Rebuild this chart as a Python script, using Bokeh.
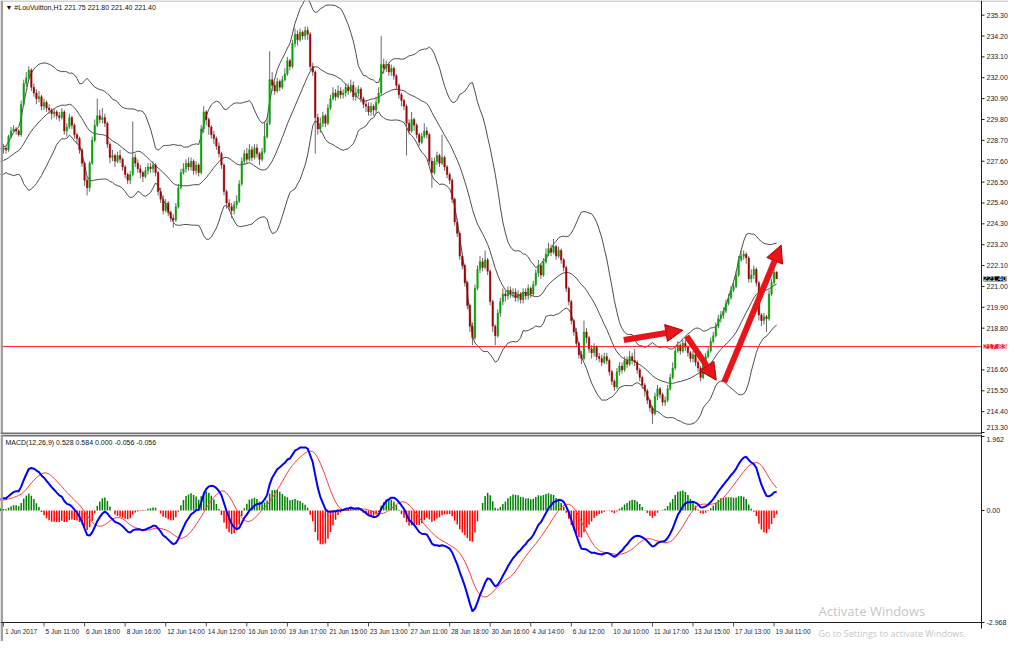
import numpy as np
import pandas as pd
from bokeh.plotting import figure
from bokeh.layouts import column
from bokeh.models import Label, Arrow, NormalHead, Range1d
from bokeh.core.properties import value
from bokeh.embed import file_html
from bokeh.resources import INLINE

# ---------------- data ----------------
symbol_title = "\u25BC #LouVuitton,H1  221.75 221.80 221.40 221.40"
macd_title = "MACD(12,26,9) 0.528 0.584 0.000 -0.056 -0.056"

# hourly closes before the first visible bar (only feed the indicators)
warmup_close = [226.6, 226.4, 226.7, 226.5, 226.8, 226.6, 226.9, 226.7, 226.5, 226.8,
                227.0, 226.8, 226.9, 227.1, 226.9, 227.2, 227.0, 227.3, 227.1, 227.4,
                227.2, 227.5, 227.3, 227.6, 227.4, 227.7, 227.5, 227.8, 227.9, 227.7,
                228.0, 227.8, 228.1, 228.0, 228.2]

close = [228.3, 228.2, 228.9, 229.2, 229.3, 229.2, 229.0, 230.6, 231.7, 232.0,
         232.4, 231.5, 231.2, 230.9, 231.0, 230.5, 230.7, 230.4, 230.3, 230.1,
         230.2, 230.0, 229.9, 230.2, 229.2, 229.4, 229.9, 229.5, 229.0, 228.8,
         228.2, 227.5, 226.6, 226.2, 227.5, 228.7, 229.5, 230.0, 229.8, 229.9,
         229.6, 228.5, 227.8, 227.9, 227.6, 227.9, 227.7, 227.3, 226.9, 226.6,
         226.9, 227.8, 227.5, 227.2, 227.0, 226.8, 227.1, 227.3, 227.2, 227.4,
         227.0, 226.0, 225.6, 225.0, 225.4, 224.9, 224.6, 224.5, 225.2, 226.2,
         227.0, 227.2, 227.5, 227.3, 227.6, 227.1, 227.4, 227.0, 229.3, 230.2,
         229.8, 229.4, 229.0, 228.8, 228.4, 228.0, 227.4, 226.0, 225.4, 225.2,
         225.0, 225.3, 225.5, 226.4, 227.6, 228.0, 227.7, 228.2, 227.8, 228.3,
         228.0, 227.7, 228.1, 228.9, 229.6, 231.9, 231.6, 231.3, 231.8, 231.5,
         231.9, 232.2, 232.9, 232.6, 233.8, 234.3, 234.0, 234.4, 234.2, 234.5,
         234.3, 232.6, 232.3, 229.9, 229.3, 229.6, 230.0, 229.6, 230.4, 230.9,
         231.2, 231.0, 231.3, 231.1, 231.2, 231.5, 231.3, 231.6, 231.0, 231.2,
         231.4, 230.9, 230.6, 230.5, 230.2, 230.5, 230.3, 230.7, 231.2, 232.7,
         232.5, 232.7, 232.3, 232.5, 232.1, 231.6, 231.1, 230.8, 230.5, 229.6,
         229.2, 229.8, 229.5, 229.0, 228.6, 228.9, 229.2, 229.0, 227.6, 227.0,
         227.6, 227.9, 227.5, 227.8, 227.3, 226.9, 226.6, 225.6, 224.4, 223.8,
         222.6, 222.1, 221.2, 220.0, 218.9, 218.3, 220.9, 221.9, 222.3, 222.0,
         222.4, 221.8, 220.2, 218.9, 218.4, 219.6, 220.2, 220.6, 220.5, 220.8,
         220.6, 220.7, 220.4, 220.6, 220.3, 220.7, 220.5, 220.9, 220.6, 221.1,
         221.7, 222.1, 221.6, 222.3, 222.7, 223.0, 222.8, 223.1, 222.6, 222.9,
         222.4, 222.0, 220.9, 220.2, 219.2, 218.6, 218.0, 217.4, 217.2, 218.6,
         218.3, 217.7, 217.5, 217.8, 217.3, 217.2, 217.0, 217.3, 217.1, 216.5,
         216.0, 215.7, 216.5, 216.8, 216.6, 217.1, 216.9, 217.3, 217.1, 217.0,
         216.6, 216.2, 215.8, 215.5, 215.0, 214.6, 214.3, 215.2, 215.6, 215.3,
         214.9, 215.0, 215.6, 216.2, 216.7, 217.6, 217.9, 217.6, 218.0, 217.8,
         217.5, 217.2, 217.4, 217.0, 216.7, 216.2, 216.9, 217.3, 217.6, 218.1,
         218.4, 218.9, 219.3, 219.5, 219.7, 220.1, 220.4, 220.8, 221.0, 221.6,
         222.4, 222.6, 222.7, 222.5, 221.4, 221.6, 221.9, 221.2, 219.5, 219.2,
         219.4, 219.3, 220.6, 221.2, 221.75, 221.40]

high = [228.5, 228.4, 229.0, 229.4, 229.5, 229.4, 229.3, 230.8, 231.9, 232.3,
        232.6, 232.5, 231.7, 231.4, 231.3, 231.1, 230.9, 230.8, 230.6, 230.4,
        230.4, 230.3, 230.2, 230.4, 230.3, 229.6, 230.1, 230.0, 229.6, 229.1,
        228.9, 228.3, 227.6, 226.8, 227.6, 228.9, 229.8, 230.9, 230.3, 230.4,
        230.1, 229.7, 228.6, 228.2, 228.0, 228.1, 228.2, 227.8, 227.4, 227.0,
        227.1, 229.7, 228.0, 227.7, 227.4, 227.1, 227.3, 227.5, 227.5, 227.6,
        227.5, 227.1, 226.2, 225.8, 225.6, 225.5, 225.0, 224.8, 225.4, 226.4,
        227.2, 227.5, 227.7, 227.8, 227.8, 227.7, 227.6, 227.5, 229.5, 230.5,
        230.3, 229.9, 229.5, 229.2, 228.9, 228.6, 228.1, 227.5, 226.1, 225.6,
        225.4, 225.5, 225.8, 226.6, 227.8, 228.2, 228.3, 228.5, 228.4, 228.5,
        228.5, 228.1, 228.3, 229.7, 229.9, 233.4, 232.3, 231.8, 232.0, 231.9,
        232.1, 232.5, 233.1, 233.0, 234.0, 234.6, 234.5, 234.6, 234.5, 234.7,
        234.7, 234.4, 232.8, 232.4, 230.1, 229.9, 230.2, 230.1, 230.6, 231.1,
        231.5, 231.4, 231.6, 231.5, 231.4, 231.7, 231.7, 231.9, 231.8, 231.5,
        231.6, 231.5, 231.0, 230.8, 230.7, 230.7, 230.6, 231.0, 231.5, 234.2,
        233.0, 232.9, 232.8, 232.7, 232.6, 232.2, 231.7, 231.2, 230.9, 230.6,
        229.8, 230.2, 229.9, 229.6, 229.1, 229.1, 229.6, 229.4, 229.1, 227.8,
        227.8, 228.1, 228.0, 229.0, 227.9, 227.4, 227.0, 226.7, 225.7, 224.6,
        223.9, 222.8, 222.2, 221.3, 220.1, 219.1, 221.1, 222.1, 222.6, 222.5,
        222.9, 222.5, 221.9, 220.3, 219.0, 219.8, 220.4, 220.9, 220.8, 221.0,
        221.0, 220.9, 220.9, 220.8, 220.7, 220.9, 220.9, 221.1, 221.0, 221.3,
        221.9, 222.4, 222.2, 222.5, 223.0, 223.3, 223.2, 223.5, 223.2, 223.1,
        223.0, 222.5, 222.1, 221.0, 220.3, 219.3, 218.8, 218.1, 217.6, 219.2,
        218.8, 218.4, 217.9, 218.0, 217.9, 217.5, 217.4, 217.5, 217.5, 217.2,
        216.6, 216.1, 216.7, 217.0, 217.0, 217.3, 217.3, 217.6, 217.5, 217.7,
        217.1, 216.7, 216.3, 215.9, 215.6, 215.1, 214.7, 215.4, 215.8, 215.7,
        215.4, 215.2, 215.8, 216.4, 217.0, 217.8, 218.1, 218.0, 218.2, 218.2,
        217.9, 217.6, 217.6, 217.5, 217.1, 216.8, 217.1, 217.5, 217.8, 218.3,
        218.6, 219.1, 219.5, 219.7, 219.9, 220.3, 220.6, 221.0, 221.3, 221.8,
        222.6, 222.9, 222.9, 222.8, 222.6, 221.9, 222.1, 222.0, 221.3, 219.6,
        219.6, 219.5, 220.8, 221.4, 221.9, 221.80]

low = [228.0, 228.0, 228.1, 228.8, 229.1, 229.0, 228.9, 228.9, 230.5, 231.5,
       231.9, 231.3, 231.0, 230.6, 230.7, 230.3, 230.3, 230.2, 230.1, 229.8,
       229.9, 229.8, 229.7, 229.8, 229.0, 228.9, 229.3, 229.3, 228.8, 228.5,
       228.0, 227.3, 226.3, 225.8, 226.0, 227.4, 228.6, 229.4, 229.6, 229.6,
       229.4, 228.3, 227.5, 227.6, 227.3, 227.5, 227.5, 227.1, 226.7, 226.4,
       226.4, 226.8, 227.3, 227.0, 226.7, 226.5, 226.7, 226.9, 227.0, 227.0,
       226.8, 225.8, 225.4, 224.8, 224.9, 224.7, 224.4, 224.1, 224.4, 225.1,
       226.1, 226.9, 227.0, 227.1, 227.1, 226.9, 226.9, 226.8, 226.9, 229.1,
       229.5, 229.0, 228.8, 228.5, 228.2, 227.8, 227.2, 225.8, 225.1, 225.0,
       224.6, 224.8, 225.1, 225.4, 226.3, 227.4, 227.5, 227.6, 227.6, 227.7,
       227.8, 227.4, 227.6, 228.0, 228.8, 229.5, 231.3, 231.1, 231.2, 231.3,
       231.4, 231.8, 232.1, 232.4, 232.5, 233.6, 233.7, 233.9, 234.0, 234.0,
       234.0, 232.4, 232.1, 228.0, 229.0, 229.1, 229.4, 229.4, 229.5, 230.3,
       230.8, 230.8, 230.9, 230.9, 230.9, 231.0, 231.1, 231.2, 230.8, 230.8,
       231.0, 230.7, 230.4, 230.2, 230.0, 230.0, 230.0, 230.1, 230.6, 231.1,
       232.2, 232.3, 232.1, 232.1, 231.9, 231.4, 230.9, 230.5, 230.3, 227.9,
       229.0, 229.1, 229.2, 228.8, 228.4, 228.5, 228.8, 228.8, 227.4, 226.2,
       226.9, 227.4, 227.3, 227.4, 227.1, 226.7, 226.4, 225.4, 224.2, 223.6,
       222.4, 221.9, 221.0, 219.8, 218.6, 217.9, 218.2, 220.8, 221.7, 221.8,
       221.9, 221.6, 220.0, 218.6, 217.9, 218.3, 219.4, 220.0, 220.2, 220.3,
       220.4, 220.4, 220.2, 220.2, 220.1, 220.1, 220.3, 220.3, 220.4, 220.5,
       221.0, 221.5, 221.4, 221.5, 222.2, 222.6, 222.6, 222.7, 222.4, 222.5,
       222.2, 221.8, 220.7, 220.0, 219.0, 218.4, 217.8, 217.2, 216.9, 217.1,
       218.0, 217.5, 217.2, 217.3, 217.1, 217.0, 216.8, 216.9, 216.9, 216.3,
       215.8, 215.5, 215.6, 216.3, 216.4, 216.5, 216.7, 216.8, 216.9, 216.8,
       216.4, 216.0, 215.6, 215.2, 214.8, 214.4, 213.75, 214.2, 215.0, 215.1,
       214.7, 214.7, 214.9, 215.5, 216.1, 216.6, 217.5, 217.4, 217.5, 217.6,
       217.3, 217.0, 217.0, 216.8, 216.5, 216.0, 216.1, 216.8, 217.2, 217.5,
       218.0, 218.3, 218.8, 219.1, 219.3, 219.6, 220.0, 220.3, 220.7, 220.9,
       221.5, 222.3, 222.4, 222.2, 221.2, 221.2, 221.4, 221.0, 219.2, 218.9,
       219.0, 218.6, 219.2, 220.5, 221.1, 221.40]

x_tick_bars = [0, 16, 32, 48, 64, 80, 96, 112, 128, 144,
               160, 176, 192, 208, 224, 240, 256, 272, 288, 304]
x_tick_labels = ["1 Jun 2017", "5 Jun 11:00", "6 Jun 18:00", "8 Jun 16:00",
                 "12 Jun 14:00", "14 Jun 12:00", "16 Jun 10:00", "19 Jun 17:00",
                 "21 Jun 15:00", "23 Jun 13:00", "27 Jun 11:00", "28 Jun 18:00",
                 "30 Jun 16:00", "4 Jul 14:00", "6 Jul 12:00", "10 Jul 10:00",
                 "11 Jul 17:00", "13 Jul 15:00", "17 Jul 13:00", "19 Jul 11:00"]
price_ticks = [235.30, 234.20, 233.10, 232.00, 230.90, 229.80, 228.70, 227.60,
               226.50, 225.40, 224.30, 223.20, 222.10, 221.00, 219.90, 218.80,
               216.60, 215.50, 214.40, 213.30]
macd_ticks = [1.962, 0.0, -2.968]
macd_tick_labels = ["1.962", "0.00", "-2.968"]
level_price = 217.83
last_price = 221.40

# hand-drawn red arrows (bar index, price)
arrow_x0 = [244.7, 269.5, 284.3]
arrow_y0 = [218.18, 218.38, 215.96]
arrow_x1 = [268.0, 281.2, 306.8]
arrow_y1 = [218.69, 216.06, 223.18]

watermark_1 = "Activate Windows"
watermark_2 = "Go to Settings to activate Windows."

assert len(close) == len(high) == len(low)

# ---------------- indicators ----------------
n_w = len(warmup_close)
all_close = np.array(warmup_close + close)
x_all = np.arange(-n_w, len(close))
s = pd.Series(all_close)
mid = s.rolling(20).mean()
sd = s.rolling(20).std(ddof=0)
upper = mid + 2 * sd
lower = mid - 2 * sd
macd = s.ewm(span=12, adjust=False).mean() - s.ewm(span=26, adjust=False).mean()
signal = macd.rolling(9).mean()
hist = macd - signal

c = np.array(close)
o = all_close[n_w - 1:-1]
h = np.array(high)
l = np.array(low)
xb = np.arange(len(close))
up = c >= o

# ---------------- layout constants (pixels -> data units) ----------------
FONT = "Liberation Sans"
W = 1008
PXB = 2.535                      # pixels per bar
X0 = -1.17
X1 = X0 + W / PXB
AXIS_X = X0 + 981 / PXB          # right price-scale line
TICK_X = AXIS_X + 3 / PXB
LAB_X = AXIS_X + 5 / PXB

H1 = 434
PX1 = 18.97                      # pixels per price unit
Y1_LO = 213.30 - 2 / PX1
Y1_HI = 236.02 + 1 / PX1

H2 = 641 - H1
PX2 = 37.73                      # pixels per MACD unit
Y2_LO = -2.968 - 19 / PX2
Y2_HI = 1.962 + 2 / PX2

x_range = Range1d(X0, X1)
AX_COL = "#202020"
LAB_COL = "#1c1c2c"


def base_fig(height, y_lo, y_hi):
    p = figure(frame_width=W, frame_height=height, x_range=x_range,
               y_range=Range1d(y_lo, y_hi), x_axis_location=None,
               y_axis_location=None, toolbar_location=None,
               output_backend="svg", min_border=0)
    p.xgrid.grid_line_color = None
    p.ygrid.grid_line_color = None
    p.outline_line_color = None
    p.background_fill_color = "white"
    p.border_fill_color = "white"
    return p


# ---------------- main price panel ----------------
p1 = base_fig(H1, Y1_LO, Y1_HI)

p1.line(x_all, upper.values, line_color="#3a3a3a", line_width=0.9)
p1.line(x_all, mid.values, line_color="#3a3a3a", line_width=0.9)
p1.line(x_all, lower.values, line_color="#3a3a3a", line_width=0.9)

p1.segment(xb, h, xb, l, line_color="#6a6a6a", line_width=1)
p1.vbar(xb[up], width=0.62, top=c[up], bottom=o[up],
        fill_color="#00a800", line_color="#00a000", line_width=0.4)
p1.vbar(xb[~up], width=0.62, top=o[~up], bottom=c[~up],
        fill_color="#a00000", line_color="#a00000", line_width=0.4)

# horizontal level line
p1.segment([X0], [level_price], [AXIS_X], [level_price],
           line_color="#ff2020", line_width=1)

for i in range(len(arrow_x0)):
    p1.add_layout(Arrow(end=NormalHead(size=17, fill_color="#e8141a",
                                       line_color="#b00000", line_width=1),
                        x_start=arrow_x0[i], y_start=arrow_y0[i],
                        x_end=arrow_x1[i], y_end=arrow_y1[i],
                        line_color="#e8141a", line_width=6))

# window edges, separator, price scale
p1.segment([X0], [Y1_HI - 0.5 / PX1], [X1], [Y1_HI - 0.5 / PX1],
           line_color="#a8a8a8", line_width=1)
p1.segment([X0 + 1.2 / PXB], [Y1_LO], [X0 + 1.2 / PXB], [Y1_HI],
           line_color="#9c9c9c", line_width=2.5)
p1.segment([X0], [Y1_LO + 1 / PX1], [AXIS_X], [Y1_LO + 1 / PX1],
           line_color="#707070", line_width=2)
p1.segment([AXIS_X], [Y1_LO], [AXIS_X], [Y1_HI], line_color=AX_COL, line_width=1)
p1.segment([AXIS_X] * len(price_ticks), price_ticks,
           [TICK_X] * len(price_ticks), price_ticks,
           line_color=AX_COL, line_width=1)
# the bottom-most label sits just above the panel edge, as in the terminal
price_label_y = [t for t in price_ticks[:-1]] + [price_ticks[-1] + 5 / PX1]
p1.text(x=[LAB_X] * len(price_ticks), y=price_label_y,
        text=["%.2f" % t for t in price_ticks], text_font=value(FONT),
        text_font_size="7px", text_color=LAB_COL, text_align="left",
        text_baseline="middle")

p1.add_layout(Label(x=AXIS_X + 2 / PXB, y=last_price, x_units="data",
                    y_units="data", text="%.2f" % last_price,
                    text_font=FONT, text_font_size="7.5px", text_color="white",
                    text_baseline="middle", background_fill_color="black"))
p1.add_layout(Label(x=AXIS_X + 2 / PXB, y=level_price, x_units="data",
                    y_units="data", text="%.2f" % level_price,
                    text_font=FONT, text_font_size="7.5px", text_color="white",
                    text_baseline="middle", background_fill_color="#ff1a1a"))

p1.add_layout(Label(x=5, y=H1 - 3, x_units="screen", y_units="screen",
                    text=symbol_title, text_font=FONT,
                    text_font_size="7px", text_color="#111111",
                    text_baseline="top"))

# ---------------- MACD panel ----------------
p2 = base_fig(H2, Y2_LO, Y2_HI)

hv = hist.values
pos = hv >= 0
p2.vbar(x_all[pos], width=0.6, top=hv[pos], bottom=0,
        fill_color="#008000", line_color=None)
p2.vbar(x_all[~pos], width=0.6, top=0, bottom=hv[~pos],
        fill_color="#ff0000", line_color=None)
p2.line(x_all, signal.values, line_color="#ff3b3b", line_width=1)
p2.line(x_all, macd.values, line_color="#0000ff", line_width=2)

p2.segment([X0], [Y2_HI - 1 / PX2], [AXIS_X], [Y2_HI - 1 / PX2],
           line_color="#707070", line_width=2)
p2.segment([X0 + 1.2 / PXB], [Y2_LO], [X0 + 1.2 / PXB], [Y2_HI],
           line_color="#9c9c9c", line_width=2.5)
p2.segment([X0], [-2.968], [AXIS_X], [-2.968], line_color=AX_COL, line_width=1)
p2.segment([AXIS_X], [-2.968 - 6 / PX2], [AXIS_X], [Y2_HI],
           line_color=AX_COL, line_width=1)
p2.segment([AXIS_X] * 3, macd_ticks, [TICK_X] * 3, macd_ticks,
           line_color=AX_COL, line_width=1)
p2.text(x=[LAB_X] * 3, y=[macd_ticks[0] - 3 / PX2, macd_ticks[1], macd_ticks[2]],
        text=macd_tick_labels, text_font=value(FONT), text_font_size="7px",
        text_color=LAB_COL, text_align="left", text_baseline="middle")

# time scale
p2.segment(x_tick_bars, [-2.968] * len(x_tick_bars), x_tick_bars,
           [-2.968 - 4 / PX2] * len(x_tick_bars), line_color="#505050",
           line_width=1)
p2.text(x=[b + 1.5 / PXB for b in x_tick_bars],
        y=[-2.968 - 5 / PX2] * len(x_tick_bars), text=x_tick_labels,
        text_font=value(FONT), text_font_size="6.5px", text_color=LAB_COL,
        text_align="left", text_baseline="top")

p2.add_layout(Label(x=5, y=H2 - 4, x_units="screen", y_units="screen",
                    text=macd_title, text_font=FONT,
                    text_font_size="7px", text_color="#111111",
                    text_baseline="top"))

# screenshot watermark
WM_X = X0 + 818 / PXB
p2.text(x=[WM_X], y=[-2.968 + 3 / PX2], text=[watermark_1],
        text_font=value("Open Sans"), text_font_size="13px",
        text_color="#b4b4b4", text_alpha=0.8, text_align="left",
        text_baseline="bottom")
p2.text(x=[WM_X], y=[-2.968 - 4 / PX2], text=[watermark_2],
        text_font=value("Open Sans"), text_font_size="9px",
        text_color="#b4b4b4", text_alpha=0.8, text_align="left",
        text_baseline="top")

layout = column(p1, p2, spacing=0)
open("out.html", "w").write(file_html(layout, INLINE))
